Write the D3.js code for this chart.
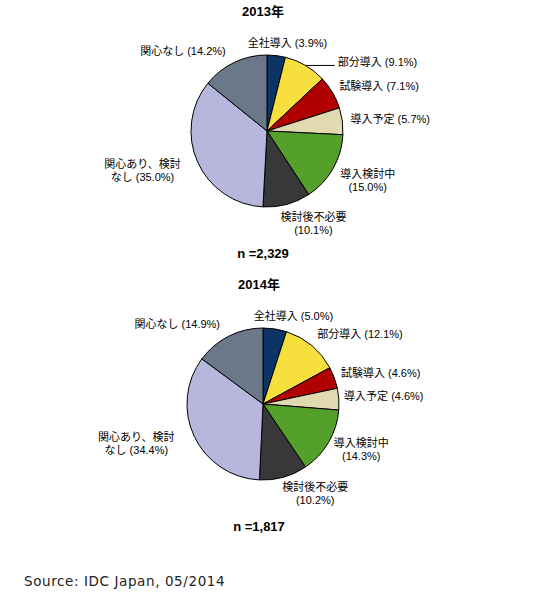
<!DOCTYPE html>
<html>
<head>
<meta charset="utf-8">
<script src="https://cdn.jsdelivr.net/npm/d3@7"></script>
<style>
  body { margin: 0; background: #fff; }
</style>
</head>
<body>
<div id="vizArea"></div>
<script>
// categories, clockwise from 12 o'clock
const categories = ["全社導入", "部分導入", "試験導入", "導入予定", "導入検討中", "検討後不必要", "関心あり、検討なし", "関心なし"];
// how each category label is broken into lines ("" = percent on its own line)
const categoryLines = [["全社導入"], ["部分導入"], ["試験導入"], ["導入予定"], ["導入検討中", ""], ["検討後不必要", ""], ["関心あり、検討", "なし"], ["関心なし"]];
const values2013 = [3.9, 9.1, 7.1, 5.7, 15.0, 10.1, 35.0, 14.2];
const values2014 = [5.0, 12.1, 4.6, 4.6, 14.3, 10.2, 34.4, 14.9];
const years = ["2013年", "2014年"];
const sampleSizes = ["n =2,329", "n =1,817"];
const colors = ["#0d3466", "#f7df3d", "#b00000", "#e1dab0", "#55a02a", "#383838", "#b7b6dc", "#6b7889"];

const width = 541, height = 602;

const svg = d3.select("#vizArea")
    .append("svg")
    .attr("width", width)
    .attr("height", height);

const radius = 76;
const labelFont = "'Liberation Sans', 'Noto Sans CJK JP', sans-serif";

// chart layout: pie centre, label nudges (from the slice's outer point), leader lines
const charts = [
    {
        values: values2013, cx: 267, cy: 131, title: years[0], n: sampleSizes[0],
        nudge: [[10, -2], [67, 6], [38, 0], [38, 0], [26, 1], [24, 4], [-46, -1], [-47, -1]],
        leader: [1]
    },
    {
        values: values2014, cx: 263, cy: 404, title: years[1], n: sampleSizes[1],
        nudge: [[17, -2], [42, -3], [37, 0], [35, -1], [24, -3], [29, 1], [-49, -3], [-47, -2]],
        leader: []
    }
];

const pie = d3.pie().sort(null).value(d => d);
const arc = d3.arc().innerRadius(0).outerRadius(radius);
const outerArc = d3.arc().innerRadius(radius + 10).outerRadius(radius + 10);
const edgeArc = d3.arc().innerRadius(radius).outerRadius(radius);

charts.forEach(c => {
    const g = svg.append("g")
        .attr("transform", "translate(" + c.cx + "," + c.cy + ")");

    const arcs = pie(c.values);

    g.selectAll("path")
        .data(arcs)
        .join("path")
        .attr("d", arc)
        .attr("fill", (d, i) => colors[i])
        .attr("stroke", "#000")
        .attr("stroke-width", 1);

    // title and sample size
    g.append("text")
        .attr("x", -4).attr("y", -118)
        .attr("text-anchor", "middle")
        .attr("dominant-baseline", "middle")
        .attr("font-family", labelFont)
        .attr("font-weight", "bold")
        .attr("font-size", 13)
        .text(c.title);
    g.append("text")
        .attr("x", -4).attr("y", 124)
        .attr("text-anchor", "middle")
        .attr("dominant-baseline", "middle")
        .attr("font-family", labelFont)
        .attr("font-weight", "bold")
        .attr("font-size", 13)
        .text(c.n);

    // labels
    arcs.forEach((d, i) => {
        const p = outerArc.centroid(d);
        const x = p[0] + c.nudge[i][0];
        const y = p[1] + c.nudge[i][1];
        const pct = "(" + d.data.toFixed(1) + "%)";
        const lines = categoryLines[i].slice();
        const last = lines.length - 1;
        lines[last] = lines[last] === "" ? pct : lines[last] + " " + pct;

        const t = g.append("text")
            .attr("text-anchor", "middle")
            .attr("font-family", labelFont)
            .attr("font-size", 11)
            .attr("fill", "#000");
        lines.forEach((line, k) => {
            t.append("tspan")
                .attr("x", x)
                .attr("y", y + k * 13)
                .attr("dominant-baseline", "middle")
                .text(line);
        });

        if (c.leader.includes(i)) {
            const e = edgeArc.centroid(d);
            const w = t.node().getComputedTextLength();
            g.append("line")
                .attr("x1", e[0]).attr("y1", e[1])
                .attr("x2", x - w / 2 - 3).attr("y2", e[1])
                .attr("stroke", "#000")
                .attr("stroke-width", 1);
        }
    });
});

svg.append("text")
    .attr("x", 24)
    .attr("y", 582)
    .attr("dominant-baseline", "middle")
    .attr("font-family", "'DejaVu Sans', Verdana, sans-serif")
    .attr("font-size", 13.5)
    .attr("letter-spacing", 0.6)
    .attr("fill", "#222")
    .text("Source: IDC Japan, 05/2014");
</script>
</body>
</html>
